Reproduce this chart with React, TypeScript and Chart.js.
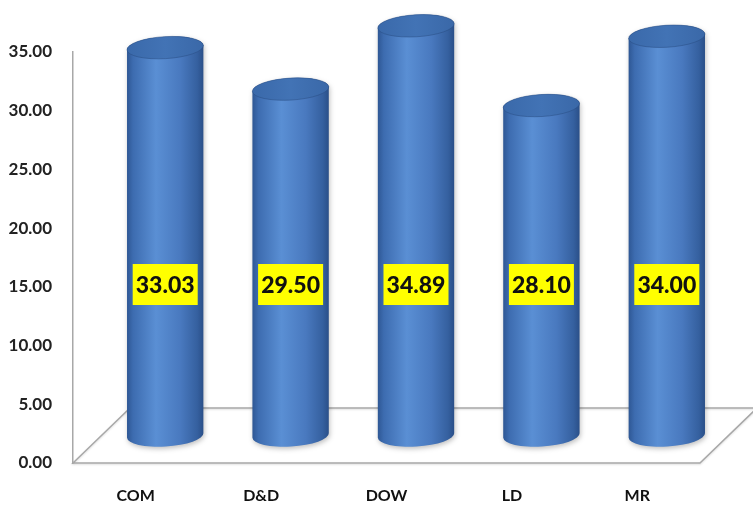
import React, { useEffect, useRef } from "react";
import { Chart, registerables } from "chart.js";
Chart.register(...registerables);

const categories = ["COM", "D&D", "DOW", "LD", "MR"];
const values = [33.03, 29.5, 34.89, 28.1, 34.0];
const yMin = 0;
const yMax = 35;
const yStep = 5;
const LABEL_LEVEL = 15.2;

const DEPTH_X = 57;
const DEPTH_Y = 55;
const FONT = "Lato, 'Open Sans', sans-serif";

function drawCylinder(ctx: CanvasRenderingContext2D, cx: number, topY: number, baseY: number, w: number) {
  const rx = w / 2;
  const ry = 11;
  const rot = -0.06;
  ctx.save();
  ctx.shadowColor = "rgba(0,0,0,0.25)";
  ctx.shadowBlur = 5;
  ctx.shadowOffsetX = 1;
  ctx.shadowOffsetY = 2;
  const g = ctx.createLinearGradient(cx - rx, 0, cx + rx, 0);
  g.addColorStop(0, "#2e5794");
  g.addColorStop(0.08, "#3d6cb0");
  g.addColorStop(0.38, "#5a8fd4");
  g.addColorStop(0.7, "#4979bf");
  g.addColorStop(0.92, "#35609f");
  g.addColorStop(1, "#2a4f88");
  ctx.beginPath();
  ctx.ellipse(cx, baseY, rx, ry, rot, Math.PI, 0, true);
  ctx.ellipse(cx, topY, rx, ry, rot, 0, Math.PI, true);
  ctx.closePath();
  ctx.fillStyle = g;
  ctx.fill();
  ctx.restore();

  ctx.save();
  const gt = ctx.createLinearGradient(cx - rx, topY, cx + rx, topY);
  gt.addColorStop(0, "#3a69aa");
  gt.addColorStop(0.5, "#4273b5");
  gt.addColorStop(1, "#3a68a8");
  ctx.beginPath();
  ctx.ellipse(cx, topY, rx, ry, rot, 0, Math.PI * 2);
  ctx.fillStyle = gt;
  ctx.fill();
  ctx.strokeStyle = "rgba(40,75,130,0.5)";
  ctx.lineWidth = 1;
  ctx.stroke();
  ctx.restore();
}

const cylinderPlugin = {
  id: "cylinders3d",
  beforeDatasetsDraw(chart: any) {
    const { ctx, chartArea: a } = chart;
    ctx.save();
    ctx.strokeStyle = "#a8a8a8";
    ctx.lineWidth = 1.5;
    ctx.shadowColor = "rgba(0,0,0,0.15)";
    ctx.shadowBlur = 2;
    ctx.shadowOffsetY = 1;
    ctx.beginPath();
    ctx.moveTo(a.left, a.bottom);
    ctx.lineTo(a.left + DEPTH_X, a.bottom - DEPTH_Y);
    ctx.lineTo(a.right + DEPTH_X, a.bottom - DEPTH_Y);
    ctx.lineTo(a.right, a.bottom);
    ctx.closePath();
    ctx.stroke();
    ctx.restore();
  },
  afterDatasetsDraw(chart: any) {
    const { ctx } = chart;
    const yScale = chart.scales.y;
    const meta = chart.getDatasetMeta(0);
    const dx = DEPTH_X / 2 + 1;
    const dy = DEPTH_Y / 2;
    meta.data.forEach((bar: any) => {
      const props = bar.getProps(["x", "y", "base", "width"], true);
      const cx = props.x + dx;
      drawCylinder(ctx, cx, props.y - dy, props.base - dy, props.width);
    });
    meta.data.forEach((bar: any, i: number) => {
      const props = bar.getProps(["x"], true);
      const cx = props.x + dx;
      const cy = yScale.getPixelForValue(LABEL_LEVEL);
      const bw = 65;
      const bh = 41;
      ctx.save();
      ctx.fillStyle = "#ffff00";
      ctx.fillRect(cx - bw / 2, cy - bh / 2, bw, bh);
      ctx.fillStyle = "#111111";
      ctx.font = `900 23px ${FONT}`;
      ctx.textAlign = "center";
      ctx.textBaseline = "middle";
      ctx.fillText(values[i].toFixed(2), cx, cy + 1);
      ctx.restore();
    });
  },
};

export default function App() {
  const ref = useRef<HTMLCanvasElement>(null);
  useEffect(() => {
    if (!ref.current) return;
    const chart = new Chart(ref.current, {
      type: "bar",
      data: {
        labels: categories,
        datasets: [
          {
            data: values,
            backgroundColor: "rgba(0,0,0,0)",
            borderWidth: 0,
            categoryPercentage: 1,
            barPercentage: 0.61,
          },
        ],
      },
      options: {
        responsive: false,
        animation: false,
        layout: { padding: { left: 0, top: 52, right: 53, bottom: 0 } },
        plugins: { legend: { display: false }, tooltip: { enabled: false } },
        scales: {
          x: {
            grid: { display: false, drawTicks: false },
            border: { display: false },
            ticks: {
              color: "#111",
              font: { family: FONT, size: 16, weight: "bold" },
              padding: 23,
              maxRotation: 0,
            },
            afterFit: (s: any) => {
              s.height = 49;
            },
          },
          y: {
            min: yMin,
            max: yMax,
            grid: { display: false, drawTicks: false },
            border: { display: true, color: "#a8a8a8", width: 1.5 },
            ticks: {
              stepSize: yStep,
              color: "#222",
              padding: 21,
              font: { family: FONT, size: 17, weight: "bold" },
              callback: (v: any) => Number(v).toFixed(2),
            },
            afterFit: (s: any) => {
              s.width = 73;
            },
          },
        },
      },
      plugins: [cylinderPlugin],
    });
    return () => chart.destroy();
  }, []);
  return (
    <div style={{ position: "fixed", left: 0, top: 0, width: 753, height: 512, background: "#fff" }}>
      <canvas ref={ref} width={753} height={512} />
    </div>
  );
}
